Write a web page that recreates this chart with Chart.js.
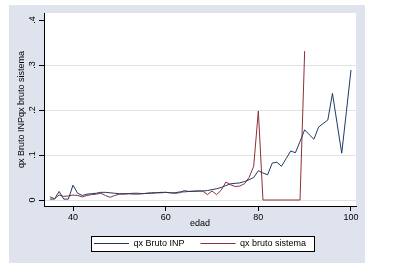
<!DOCTYPE html>
<html>
<head>
<meta charset="utf-8">
<script src="https://cdn.jsdelivr.net/npm/chart.js@4/dist/chart.umd.min.js"></script>
<style>
body { margin: 0; background: #fff; }
</style>
</head>
<body>
<canvas id="qxChart" width="396" height="278"></canvas>
<script>
// edad (x) y las dos series qx
const edad = [35, 36, 37, 38, 39, 40, 41, 42, 43, 44, 45, 46, 47, 48, 49, 50, 51, 52, 53, 54,
    55, 56, 57, 58, 59, 60, 61, 62, 63, 64, 65, 66, 67, 68, 69, 70, 71, 72, 73, 74,
    75, 76, 77, 78, 79, 80, 81, 82, 83, 84, 85, 86, 87, 88, 89, 90, 91, 92, 93, 94,
    95, 96, 97, 98, 99, 100];

const qxBrutoINP = [.002, .002, .019, .002, .002, .033, .015, .010, .013, .014,
    .015, .017, .017, .016, .015, .014, .014, .014, .015, .015,
    .014, .015, .016, .016, .017, .017, .016, .016, .018, .018,
    .019, .019, .020, .020, .021, .023, .025, .028, .032, .036,
    .037, .038, .041, .045, .050, .065, .060, .056, .082, .084,
    .075, .092, .109, .105, .130, .156, .145, .135, .162, .170,
    .178, .237, .170, .104, .196, .289];

// la serie del sistema llega hasta los 90
const qxBrutoSistema = [.007, .003, .011, .008, .009, .011, .010, .007, .010, .012,
    .013, .015, .010, .006, .010, .013, .013, .014, .013, .013,
    .014, .015, .015, .016, .016, .017, .016, .015, .016, .021,
    .019, .020, .020, .020, .012, .020, .012, .022, .040, .034,
    .030, .031, .036, .050, .075, .198, 0, 0, 0, 0,
    0, 0, 0, 0, 0, .331];

const xTicks = [40, 60, 80, 100];
const yTicks = [0, .1, .2, .3, .4];
const yTickLabels = ['0', '.1', '.2', '.3', '.4'];

const toPoints = (ys) => ys.map((v, i) => ({ x: edad[i], y: v }));

const fondo = {
    id: 'fondo',
    beforeDraw: (chart) => {
        const ctx = chart.ctx;
        const a = chart.chartArea;
        ctx.save();
        ctx.fillStyle = '#fff';
        ctx.fillRect(0, 0, chart.width, chart.height);
        ctx.fillStyle = '#dfe3ee';
        ctx.fillRect(9, 5, 356, 258);
        ctx.fillStyle = '#fff';
        ctx.fillRect(a.left, a.top, a.right - a.left, a.bottom - a.top);

        // marco de la leyenda
        const hb = chart.legend.legendHitBoxes;
        if (hb && hb.length) {
            const last = hb[hb.length - 1];
            const x0 = Math.round(hb[0].left - 3);
            const x1 = Math.round(last.left + last.width + 8);
            const y0 = Math.round(hb[0].top - 3);
            ctx.fillRect(x0, y0, x1 - x0, 15);
            ctx.strokeStyle = '#000';
            ctx.lineWidth = 1;
            ctx.strokeRect(x0 + 0.5, y0 + 0.5, x1 - x0, 15);
        }
        ctx.restore();
    }
};

Chart.defaults.font.family = "'Liberation Sans', Arial, sans-serif";
Chart.defaults.font.size = 9;
Chart.defaults.color = '#000';

var ctxQ = document.getElementById('qxChart').getContext('2d');
var qxChart = new Chart(ctxQ, {
    type: 'line',
    data: {
        datasets: [{
            label: 'qx Bruto INP',
            data: toPoints(qxBrutoINP),
            borderColor: '#1f3a63',
            backgroundColor: '#1f3a63',
            borderWidth: 1,
            pointRadius: 0,
            tension: 0
        },
        {
            label: 'qx bruto sistema',
            data: toPoints(qxBrutoSistema),
            borderColor: '#8e3038',
            backgroundColor: '#8e3038',
            borderWidth: 1,
            pointRadius: 0,
            tension: 0
        }]
    },
    options: {
        responsive: false,
        animation: false,
        devicePixelRatio: 1,
        layout: { padding: { left: 9, right: 40, top: 13, bottom: 20 } },
        plugins: {
            tooltip: { enabled: false },
            legend: {
                position: 'bottom',
                fullSize: false,
                labels: {
                    boxWidth: 35,
                    boxHeight: 1,
                    padding: 16,
                    color: '#000',
                    generateLabels: (chart) => Chart.defaults.plugins.legend.labels.generateLabels(chart)
                        .map(l => Object.assign(l, { lineWidth: 0, fillStyle: l.strokeStyle }))
                }
            }
        },
        scales: {
            x: {
                type: 'linear',
                min: 33.74,
                max: 101.08,
                afterBuildTicks: (s) => { s.ticks = xTicks.map(v => ({ value: v })); },
                afterFit: (s) => { s.height = 17; },
                grid: { drawOnChartArea: false, tickLength: 5, tickColor: '#000' },
                border: { color: '#000', width: 1 },
                ticks: { maxRotation: 0, padding: 1, color: '#000' },
                title: { display: true, text: 'edad', color: '#000', padding: { top: 0, bottom: -6.4 } }
            },
            y: {
                type: 'linear',
                min: -0.01333,
                max: 0.4156,
                afterBuildTicks: (s) => { s.ticks = yTicks.map(v => ({ value: v })); },
                afterFit: (s) => { s.width = 35; },
                grid: {
                    color: (c) => (c.tick && c.tick.value >= 0.4) ? 'rgba(0,0,0,0)' : '#e2e2e2',
                    tickColor: '#000',
                    tickLength: 5
                },
                border: { color: '#000', width: 1 },
                ticks: {
                    minRotation: 90,
                    maxRotation: 90,
                    crossAlign: 'center',
                    padding: 3,
                    color: '#000',
                    callback: (v, i) => yTickLabels[i]
                },
                title: { display: true, text: 'qx Bruto INPqx bruto sistema', color: '#000', padding: { top: 7.6, bottom: 0 } }
            }
        }
    },
    plugins: [fondo]
});
</script>
</body>
</html>
